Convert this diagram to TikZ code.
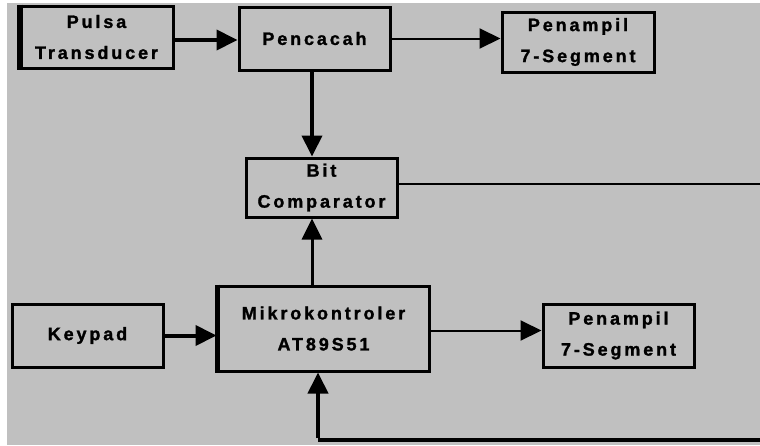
\documentclass[tikz,border=0pt]{standalone}
\usepackage{fontspec}
\setmainfont{Liberation Sans}
\usetikzlibrary{arrows.meta,calc}
\newfontfamily\boxfont[LetterSpace=16,FakeBold=1.4]{Liberation Sans Bold}
\definecolor{bggray}{HTML}{C0C0C0}
\tikzset{
  blk/.style={draw=black, line width=3pt, rectangle, align=center, inner sep=0pt,
    font=\boxfont\fontsize{18}{31}\selectfont},
  thickarrow/.style={line width=4pt, -{Triangle[length=21pt,width=20pt]}},
  midarrow/.style={line width=3pt, -{Triangle[length=21pt,width=20pt]}},
  thinarrow/.style={line width=2pt, -{Triangle[length=21pt,width=20pt]}}
}
\begin{document}
\begin{tikzpicture}[x=1pt,y=-1pt]
\useasboundingbox (0,0) rectangle (760,445);
\clip (0,0) rectangle (760,445);
\fill[white] (0,0) rectangle (760,445);
\fill[bggray] (7,3) rectangle (760,445);

\node[blk, minimum width=153pt, minimum height=62pt] (pulsa) at (96.5,37) {Pulsa\\Transducer};
\node[blk, minimum width=151pt, minimum height=63pt] (pencacah) at (314.5,38.5) {Pencacah};
\node[blk, minimum width=152pt, minimum height=60pt] (pena) at (578,42) {Penampil\\7-Segment};
\node[blk, minimum width=151pt, minimum height=59pt] (bit) at (321.5,187.5) {Bit\\Comparator};
\node[blk, minimum width=211pt, minimum height=85pt] (mikro) at (323.5,328.5) {Mikrokontroler\\AT89S51};
\node[blk, minimum width=151pt, minimum height=63pt] (keypad) at (87.5,335.5) {Keypad};
\node[blk, minimum width=151pt, minimum height=63pt] (penb) at (618.5,335.5) {Penampil\\7-Segment};

% thick left edges
\draw[line width=6pt] ([xshift=1.5pt]pulsa.north west) -- ([xshift=1.5pt]pulsa.south west);
\draw[line width=5pt] ([xshift=1pt]mikro.north west) -- ([xshift=1pt]mikro.south west);

\coordinate (fbtop) at (765,184);
\coordinate (fbbot) at (765,440);
\coordinate (fbleft) at (318,440);

\draw[thickarrow] ([yshift=-3pt]pulsa.east) -- ([yshift=-3pt]pulsa.east -| pencacah.west);
\draw[thinarrow] (pencacah.east) -- (pencacah.east -| pena.west);
\draw[thickarrow] ([xshift=-2.5pt]pencacah.south) -- ([xshift=-2.5pt]pencacah.south |- bit.north);
\draw[midarrow] ([xshift=-9.5pt]bit.south |- mikro.north) -- ([xshift=-9.5pt]bit.south);
\draw[thickarrow] (keypad.east) -- (keypad.east -| mikro.west);
\draw[thinarrow] ([yshift=-2pt]mikro.east) -- ([yshift=-2pt]mikro.east -| penb.west);
\draw[line width=2pt] (bit.east |- fbtop) -- (fbtop);
\draw[line width=4pt] (fbbot) -- (fbleft);
\draw[thickarrow] ([yshift=2pt]fbleft) -- (fbleft |- mikro.south);
\end{tikzpicture}
\end{document}
